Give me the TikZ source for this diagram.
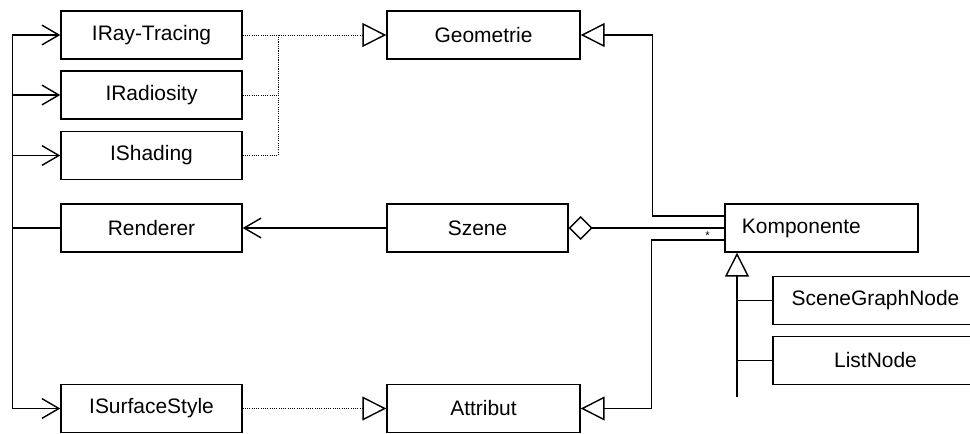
\documentclass[tikz,border=0pt]{standalone}
\usepackage{fontspec}
\setmainfont{Liberation Sans}
\usepackage{tikz}
\usetikzlibrary{arrows.meta}
\tikzset{ class_box/.style = {rectangle, draw, line width=1pt, minimum height=1.2cm, inner sep=0pt, font=\fontsize{14.9pt}{17pt}\selectfont} }
\tikzset{ link/.style = {line width=1pt} }
\tikzset{ uses/.style = {link, -{Straight Barb[length=12pt, width=14pt, line width=1pt]}} }
\tikzset{ realize/.style = {densely dotted, line width=0.6pt, -{Triangle[open, length=17pt, width=17pt, line width=1pt]}} }
\tikzset{ inherit/.style = {link, -{Triangle[open, length=17pt, width=17pt]}} }
\tikzset{ agg/.style = {link, -{Diamond[open, length=17pt, width=17pt]}} }

\begin{document}
\begin{tikzpicture}[x=0.025cm, y=-0.025cm]
            \path[use as bounding box, clip] (0,0) rectangle (970,433);
            \node[class_box, minimum width=4.525cm] (0) at (151.5, 35) {IRay-Tracing};
            \node[class_box, minimum width=4.525cm] (1) at (151.5, 95) {IRadiosity};
            \node[class_box, minimum width=4.525cm] (2) at (151.5, 155.5) {IShading};
            \node[class_box, minimum width=4.525cm] (3) at (151.5, 228) {Renderer};
            \node[class_box, minimum width=4.525cm] (4) at (151.5, 408.5) {ISurfaceStyle};
            \node[class_box, minimum width=4.825cm] (5) at (483.5, 35) {Geometrie};
            \node[class_box, minimum width=4.525cm] (6) at (477.5, 228) {Szene};
            \node[class_box, minimum width=4.825cm] (7) at (483.5, 408.5) {Attribut};
            \node[class_box, text width=3.975cm, inner xsep=0.425cm, align=left] (8) at (821.5, 228) {Komponente};
            \node[class_box, minimum width=5.125cm] (9) at (875.5, 300.5) {SceneGraphNode};
            \node[class_box, minimum width=5.125cm] (10) at (875.5, 360.5) {ListNode};
            \coordinate (bus) at (12.5, 228);
            \coordinate (join) at (278, 35);
            \coordinate (trunk) at (737, 397);
            % Renderer and the interfaces it uses
            \draw[link] (3.west) to (bus);
            \draw[uses] (bus) |- (0.west);
            \draw[uses] (bus) |- (1.west);
            \draw[uses] (bus) |- (2.west);
            \draw[uses] (bus) |- (4.west);
            \draw[uses] (6.west) to (3.east);
            % realizations
            \draw[realize] (0.east) to (5.west);
            \draw[realize, -] (1.east) -| (join);
            \draw[realize, -] (2.east) -| (join);
            \draw[realize] (4.east) to (7.west);
            % Komponente
            \draw[inherit] ([yshift=0.3cm]8.west) -- ++(-72,0) |- (5.east);
            \draw[inherit] ([yshift=-0.3cm]8.west) -- node[pos=0.23, above, inner sep=0pt, font=\fontsize{8pt}{8pt}\selectfont] {*} ++(-73,0) |- (7.east);
            \draw[agg] (8.west) to (6.east);
            \draw[inherit] (trunk) to (trunk |- 8.south);
            \draw[link] (9.west) to (9.west -| trunk);
            \draw[link] (10.west) to (10.west -| trunk);
        \end{tikzpicture}
\end{document}
